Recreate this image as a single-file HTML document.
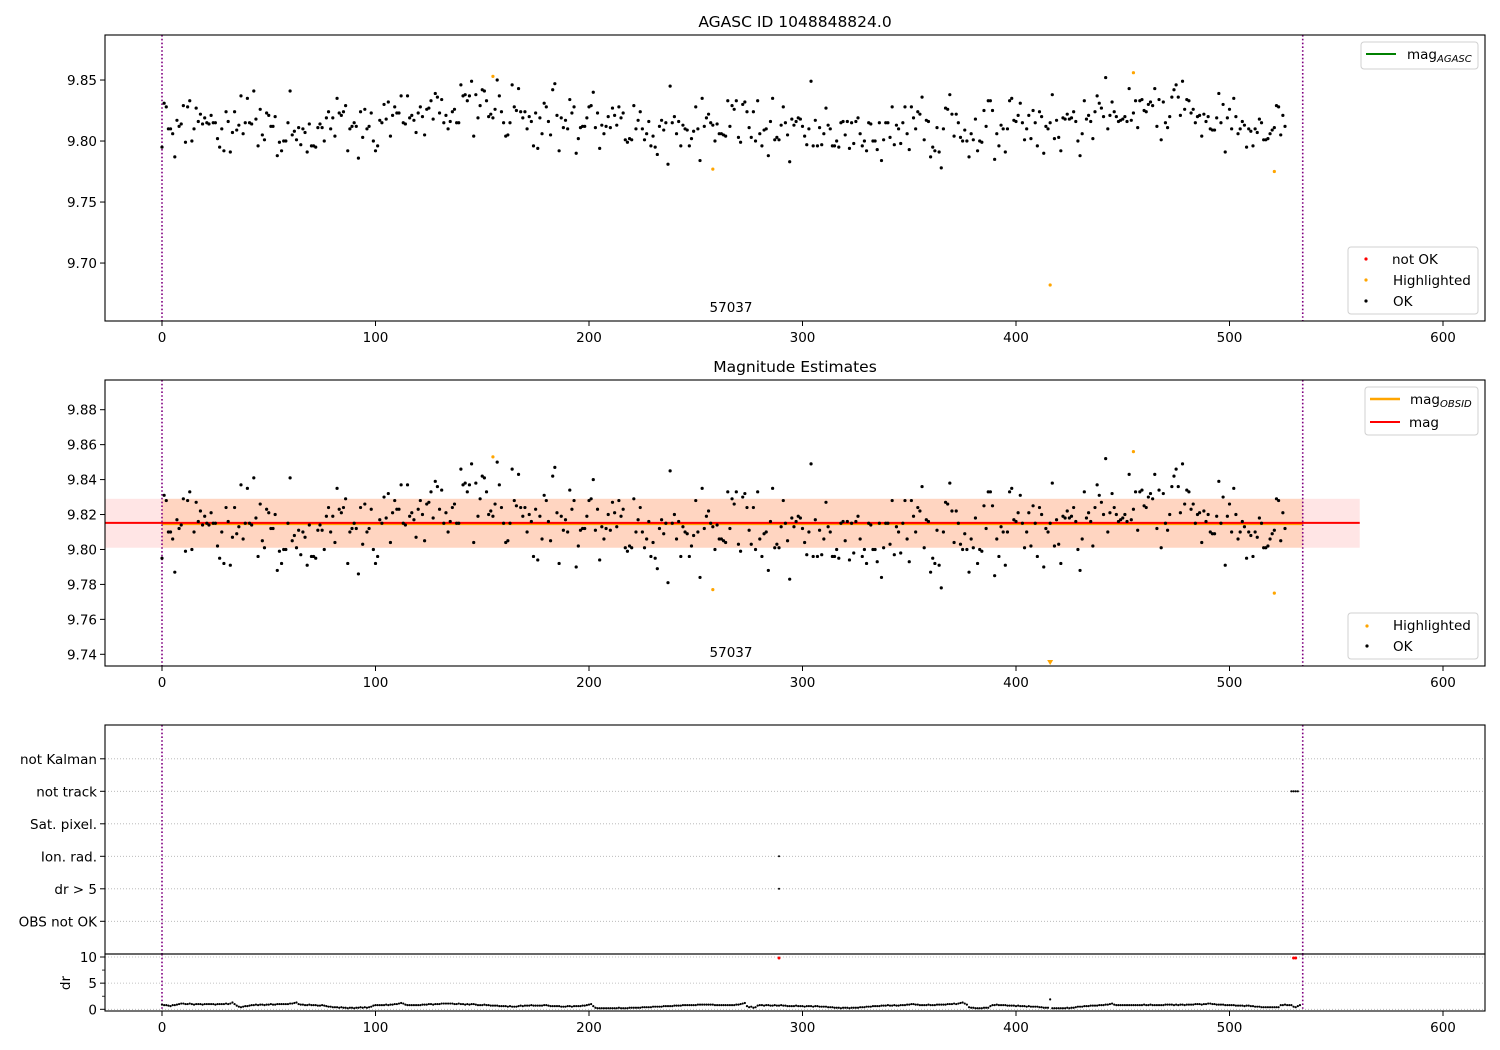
<!DOCTYPE html>
<html><head><meta charset="utf-8"><style>
html,body{margin:0;padding:0;background:#fff;}
svg{display:block;font-family:"DejaVu Sans","Liberation Sans",sans-serif;}
</style></head><body>
<svg id="fig" width="1500" height="1050" viewBox="0 0 1500 1050" xmlns="http://www.w3.org/2000/svg">
<rect width="1500" height="1050" fill="#fff"/>
<text x="795" y="27" font-size="15.5" text-anchor="middle">AGASC ID 1048848824.0</text>
<text x="795" y="372" font-size="15.5" text-anchor="middle">Magnitude Estimates</text>
<g id="layer"></g>
</svg>
<script>
// ---- data ----
const mag = [9.795,9.831,9.828,9.810,9.810,9.806,9.787,9.817,9.812,9.814,9.829,9.799,9.828,9.833,9.800,9.810,9.827,9.816,9.822,9.814,
9.819,9.815,9.814,9.821,9.815,9.815,9.802,9.795,9.810,9.792,9.824,9.816,9.791,9.807,9.824,9.809,9.813,9.837,9.806,9.815,
9.835,9.815,9.814,9.841,9.818,9.796,9.826,9.805,9.801,9.823,9.821,9.812,9.812,9.820,9.788,9.799,9.792,9.800,9.800,9.815,
9.841,9.805,9.808,9.801,9.811,9.797,9.810,9.807,9.791,9.814,9.796,9.796,9.795,9.811,9.814,9.811,9.800,9.819,9.824,9.810,
9.819,9.804,9.835,9.823,9.821,9.824,9.829,9.792,9.810,9.812,9.815,9.812,9.786,9.824,9.803,9.826,9.810,9.812,9.823,9.800,
9.792,9.796,9.817,9.815,9.830,9.818,9.832,9.804,9.821,9.828,9.823,9.823,9.837,9.815,9.814,9.837,9.819,9.821,9.817,9.807,
9.823,9.828,9.820,9.805,9.826,9.827,9.833,9.818,9.839,9.836,9.823,9.834,9.815,9.821,9.810,
9.816,9.824,9.826,9.815,9.815,9.846,9.837,9.838,9.833,9.837,9.849,9.804,9.838,9.819,9.829,9.842,9.841,9.833,9.820,9.822,
9.819,9.826,9.850,9.837,9.824,9.815,9.804,9.805,9.815,9.846,9.828,9.825,9.843,9.824,9.819,9.824,9.810,9.820,9.816,9.796,
9.823,9.794,9.819,9.806,9.831,9.828,9.816,9.805,9.842,9.847,9.821,9.792,9.819,9.811,9.817,9.810,9.834,9.823,9.828,9.790,
9.802,9.811,9.812,9.812,9.819,9.828,9.829,9.840,9.811,9.823,9.794,9.813,9.806,9.812,9.820,9.811,9.827,9.821,9.813,9.828,
9.819,9.823,9.801,9.799,9.802,9.801,9.829,9.810,9.817,9.824,9.810,9.801,9.806,9.816,9.796,9.804,9.795,9.789,9.812,9.817,
9.809,9.815,9.781,9.845,9.815,9.820,9.806,9.816,9.796,9.813,9.810,9.809,9.796,9.802,9.808,9.828,9.810,9.784,9.835,9.812,
9.819,9.822,9.815,9.813,9.800,9.814,9.806,9.806,9.805,9.804,9.833,9.812,9.829,9.826,
9.833,9.803,9.799,9.830,9.832,9.824,9.811,9.803,9.824,9.800,9.833,9.806,9.796,9.809,9.810,9.788,9.816,9.835,9.801,9.803,
9.801,9.813,9.828,9.815,9.805,9.783,9.818,9.813,9.816,9.819,9.818,9.812,9.804,9.797,9.810,9.849,9.796,9.817,9.796,9.811,
9.797,9.806,9.827,9.813,9.810,9.796,9.796,9.800,9.795,9.815,9.816,9.805,9.816,9.794,9.815,9.798,9.816,9.819,9.806,9.796,
9.800,9.792,9.815,9.814,9.800,9.800,9.793,9.815,9.784,9.801,9.815,9.815,9.803,9.828,9.797,9.813,9.810,9.798,9.815,9.828,
9.806,9.793,9.828,9.819,9.810,9.824,9.822,9.836,9.801,9.817,9.816,9.787,9.795,9.792,9.811,9.791,9.778,9.810,9.827,9.826,
9.838,9.822,9.804,9.822,9.815,9.803,9.800,9.809,9.800,9.787,9.806,9.801,9.818,9.792,9.800,9.799,9.825,9.812,9.833,9.833,
9.825,9.785,9.806,9.796,9.813,9.810,9.791,9.810,9.833,9.835,9.817,9.816,9.821,9.831,9.815,
9.801,9.810,9.821,9.802,9.825,9.815,9.796,9.824,9.820,9.790,9.812,9.810,9.815,9.838,9.802,9.817,9.803,9.792,9.819,9.818,
9.822,9.818,9.819,9.824,9.816,9.800,9.788,9.806,9.833,9.818,9.821,9.816,9.802,9.824,9.837,9.831,9.827,9.820,9.852,9.810,
9.821,9.832,9.824,9.820,9.816,9.817,9.818,9.820,9.816,9.843,9.817,9.823,9.833,9.811,9.833,9.834,9.825,9.824,9.830,9.832,
9.829,9.843,9.812,9.834,9.801,9.832,9.815,9.811,9.820,9.836,9.842,9.846,9.836,9.821,9.849,9.826,9.834,9.833,9.823,9.826,
9.815,9.820,9.821,9.804,9.822,9.816,9.820,9.810,9.809,9.809,9.819,9.839,9.815,9.830,9.791,9.819,9.826,9.810,9.835,9.820,
9.806,9.810,9.816,9.813,9.795,9.810,9.808,9.796,9.810,9.807,9.818,9.815,9.801,9.801,9.802,9.806,9.809,9.811,9.829,9.828,
9.805,9.821,9.812];
const hlX = [155, 258, 416, 455, 521];
const hlMag = [9.853, 9.777, 9.682, 9.856, 9.775];
const dr = [0.9,0.8,0.8,0.7,0.6,0.8,0.8,0.9,
1.0,1.1,1.1,1.0,1.0,1.1,1.0,0.9,1.0,1.0,1.0,0.9,1.0,1.0,1.0,1.0,1.0,0.9,1.0,1.0,1.0,1.0,1.1,1.0,1.1,1.3,
1.0,0.7,0.5,0.4,0.5,0.6,0.6,
0.7,0.8,0.8,0.9,0.8,0.9,0.9,0.8,0.9,0.9,1.0,0.9,0.9,1.0,1.0,1.0,1.0,1.0,1.0,1.1,1.1,1.2,1.3,
1.0,0.9,0.9,0.8,0.8,0.9,0.8,0.8,0.8,0.7,0.7,0.8,0.7,0.6,0.5,
0.5,0.4,0.4,0.4,0.3,0.4,0.3,0.3,0.2,0.3,0.3,0.2,0.3,0.3,0.4,0.3,0.4,0.3,0.4,0.5,
0.7,0.8,0.8,0.8,0.8,0.8,0.9,0.8,0.9,0.9,1.0,1.0,1.1,1.2,1.1,0.9,0.8,0.8,0.8,0.8,
0.8,0.8,0.8,0.9,0.9,0.9,1.0,1.0,0.9,1.0,1.0,1.0,1.1,1.1,
1.1,1.1,1.1,1.1,1.0,1.0,1.1,1.0,1.0,0.9,1.0,0.9,1.0,1.0,0.9,0.8,0.8,0.8,0.9,0.8,0.8,0.7,0.7,
0.7,0.7,0.6,0.6,0.6,0.6,0.5,0.6,0.5,0.5,0.5,0.6,0.7,0.6,0.7,0.7,0.7,0.8,0.7,0.7,0.7,0.7,0.7,0.8,0.8,
0.7,0.6,0.6,0.6,0.6,0.6,0.5,0.5,0.5,0.6,0.6,0.5,0.6,0.6,0.6,0.6,0.7,0.7,0.8,0.9,1.0,
0.6,0.3,0.2,0.2,0.2,0.2,0.2,0.2,0.2,0.2,0.2,0.2,0.3,0.2,0.2,0.2,0.2,0.3,0.3,0.3,0.3,0.3,0.3,0.4,0.4,0.4,0.4,0.4,0.5,0.5,0.5,
0.5,0.5,0.6,0.6,0.6,0.6,0.6,0.7,0.7,0.7,0.7,0.8,0.8,0.8,0.8,0.8,0.8,0.8,0.9,0.9,0.9,0.9,0.9,0.9,0.9,0.9,0.8,0.8,0.8,0.8,0.8,0.8,0.8,0.8,0.8,0.8,0.9,0.9,1.0,
1.1,1.2,0.6,0.4,0.5,0.3,0.4,0.7,0.8,0.8,0.7,0.8,0.8,0.7,0.7,0.8,0.7,0.7,0.8,0.7,0.7,0.6,
0.6,0.6,0.6,0.7,0.6,0.6,0.6,0.5,0.6,0.6,0.6,0.5,0.6,0.6,0.5,0.5,0.5,0.5,0.4,0.4,0.4,0.3,
0.3,0.3,0.2,0.3,0.3,0.3,0.2,0.3,0.3,0.3,0.3,0.4,0.4,0.4,0.5,0.5,0.5,
0.6,0.6,0.6,0.6,0.7,0.7,0.7,0.8,0.7,0.7,0.8,0.7,0.7,0.8,0.8,0.8,0.9,0.9,1.0,1.0,0.9,0.9,0.8,
0.8,0.8,0.8,0.9,0.8,0.8,0.8,0.9,0.9,0.9,0.9,0.9,1.0,1.0,1.0,1.1,1.0,1.1,1.2,1.3,1.1,0.9,
0.4,0.3,0.3,0.2,0.2,0.2,0.2,0.3,0.3,0.3,0.6,
0.8,0.8,0.9,0.8,0.8,0.8,0.8,0.7,0.7,0.7,0.7,0.6,0.7,0.6,0.6,0.6,0.5,0.6,0.5,0.5,0.5,0.5,0.4,0.4,0.3,0.3,0.3,
1.9,
0.2,0.2,0.2,0.2,0.2,0.2,0.2,0.3,0.2,0.3,0.3,0.4,
0.5,0.5,0.5,0.6,0.6,0.6,0.7,0.7,0.7,0.7,0.8,0.8,0.8,0.9,0.9,1.0,1.1,0.9,
0.8,0.8,0.8,0.8,0.8,0.8,0.8,0.8,0.8,0.8,0.8,0.8,0.8,0.9,0.8,0.8,0.9,0.8,0.8,0.8,0.8,0.8,0.8,0.9,0.9,0.9,0.9,0.8,0.9,0.8,0.9,0.9,0.8,0.9,0.9,0.9,0.9,1.0,1.0,1.0,0.9,1.0,1.0,1.1,1.1,1.0,1.0,0.9,0.9,
0.9,0.9,0.8,0.8,0.8,0.8,0.8,0.7,0.7,0.7,0.7,0.6,0.7,0.7,0.6,0.6,0.5,0.5,0.5,0.4,0.4,0.4,0.4,0.4,0.4,0.4,0.4,0.4,
0.8,0.8,0.9,0.8,0.8,0.8,0.5,
0.4,0.6,0.8];
const notOkX = [289, 530, 531];
const notOkDr = [9.8, 9.8, 9.8];
const ionRadX = [289];
const drGt5X = [289];
const notTrackX = [529, 530, 531, 532];
const flagLabels = ["OBS not OK","dr > 5","Ion. rad.","Sat. pixel.","not track","not Kalman"];
const xTicks = [0,100,200,300,400,500,600];
const p1Ticks = [9.70,9.75,9.80,9.85];
const p2Ticks = [9.74,9.76,9.78,9.80,9.82,9.84,9.86,9.88];
const drTicks = [0,5,10];
const obsStart = 0, obsEnd = 534.3;
const magMean = 9.8152, magLo = 9.801, magHi = 9.829, bandEnd = 561;

// ---- scales ----
const NS = "http://www.w3.org/2000/svg";
const L = 105, R = 1485;
const X = v => 162 + v * 2.135;
const P1 = {top:35, bot:321, lo:9.6525, hi:9.8869};
const P2 = {top:380, bot:666, lo:9.7333, hi:9.8970};
const yP = (p, v) => p.top + (p.hi - v) / (p.hi - p.lo) * (p.bot - p.top);
const Y3 = c => 921.3 - c * 32.5;
const Y4 = d => 1009.3 - d * 5.23;
const layer = document.getElementById('layer');
function mk(tag, attrs, parent) {
  const e = document.createElementNS(NS, tag);
  for (const k in attrs) e.setAttribute(k, attrs[k]);
  (parent || layer).appendChild(e);
  return e;
}
function dot(x, y, r, fill, name) {
  const e = mk('circle', {cx:x, cy:y, r:r, fill:fill});
  
  
  return e;
}
function xAxis(bot, labels) {
  xTicks.forEach(t => {
    const tk = mk('line', {x1:X(t), x2:X(t), y1:bot, y2:bot+5, stroke:'#000', 'stroke-width':1});
    
    
    if (labels) {
      const tx = mk('text', {x:X(t), y:bot+21, 'font-size':13.5, 'text-anchor':'middle'});
      tx.textContent = t;
      
      
    }
  });
}
function yTicks(ticks, yf, dec) {
  ticks.forEach(t => {
    const y = yf(t);
    const tk = mk('line', {x1:L-5, x2:L, y1:y, y2:y, stroke:'#000', 'stroke-width':1});
    
    
    const tx = mk('text', {x:L-8, y:y+5, 'font-size':13.5, 'text-anchor':'end'});
    tx.textContent = dec >= 0 ? t.toFixed(dec) : t;
    
    
  });
}
function vlines(top, bot) {
  [obsStart, obsEnd].forEach(v => {
    const l = mk('line', {x1:X(v), x2:X(v), y1:top, y2:bot, stroke:'#800080', 'stroke-width':1.6, 'stroke-dasharray':'1.6,2.2'});
    
    
  });
}
function frame(top, bot, name) {
  const r = mk('rect', {x:L, y:top, width:R-L, height:bot-top, fill:'none', stroke:'#000', 'stroke-width':1.1});
  
  
}
function label(x, y, txt, name, size, anchor) {
  const t = mk('text', {x:x, y:y, 'font-size':size||13.5, 'text-anchor':anchor||'start'});
  t.textContent = txt;
  
  
  return t;
}

// ---- panel 1 ----
vlines(P1.top, P1.bot);
mag.forEach((v, i) => dot(X(i), yP(P1, v), 1.6, '#000', 'ok-point'));
hlX.forEach((x, i) => dot(X(x), yP(P1, hlMag[i]), 1.6, 'orange', 'highlighted-point'));
label(731, 312, '57037', 'obsid-label-1', 13.5, 'middle');
frame(P1.top, P1.bot, 'agasc-panel');
yTicks(p1Ticks, v => yP(P1, v), 2);
xAxis(P1.bot, true);

// ---- panel 2 ----
let e;
e = mk('rect', {x:L, y:yP(P2, magHi), width:X(bandEnd)-L, height:yP(P2, magLo)-yP(P2, magHi), fill:'rgba(255,0,0,0.1)'});
 
e = mk('rect', {x:X(obsStart), y:yP(P2, magHi), width:X(obsEnd)-X(obsStart), height:yP(P2, magLo)-yP(P2, magHi), fill:'rgba(255,150,50,0.2)'});
 
e = mk('line', {x1:X(obsStart), x2:X(obsEnd), y1:yP(P2, magMean)+1.2, y2:yP(P2, magMean)+1.2, stroke:'orange', 'stroke-width':2});
 
e = mk('line', {x1:L, x2:X(bandEnd), y1:yP(P2, magMean), y2:yP(P2, magMean), stroke:'red', 'stroke-width':2});
 
vlines(P2.top, P2.bot);
mag.forEach((v, i) => dot(X(i), yP(P2, v), 1.6, '#000', 'ok-point'));
hlX.forEach((x, i) => {
  const v = hlMag[i];
  if (v < P2.lo) {
    const cx = X(x), cy = P2.bot - 4;
    e = mk('polygon', {points:`${cx-3},${cy-2} ${cx+3},${cy-2} ${cx},${cy+3}`, fill:'orange'});
     
  } else dot(X(x), yP(P2, v), 1.6, 'orange', 'highlighted-point');
});
label(731, 657, '57037', 'obsid-label-2', 13.5, 'middle');
frame(P2.top, P2.bot, 'magnitude-panel');
yTicks(p2Ticks, v => yP(P2, v), 2);
xAxis(P2.bot, true);

// ---- panel 3 (flags) ----
flagLabels.forEach((lab, c) => {
  e = mk('line', {x1:L, x2:R, y1:Y3(c), y2:Y3(c), stroke:'#b0b0b0', 'stroke-width':0.8, 'stroke-dasharray':'1,2'});
   
});
vlines(725, 954);
ionRadX.forEach(x => dot(X(x), Y3(2), 1, '#000', 'ion-rad-point'));
drGt5X.forEach(x => dot(X(x), Y3(1), 1, '#000', 'dr-gt-5-point'));
notTrackX.forEach(x => dot(X(x), Y3(4), 1.1, '#000', 'not-track-point'));
frame(725, 954, 'flags-panel');
yTicks([0,1,2,3,4,5], Y3, -1);
Array.from(layer.querySelectorAll('text')).slice(-6).forEach((t, i) => { t.textContent = flagLabels[i];  });

// ---- panel 4 (dr) ----
drTicks.forEach(d => {
  e = mk('line', {x1:L, x2:R, y1:Y4(d), y2:Y4(d), stroke:'#b0b0b0', 'stroke-width':0.8, 'stroke-dasharray':'1,2'});
   
});
vlines(954, 1011);
dr.forEach((d, i) => dot(X(i), Y4(d), 1.1, '#000', 'dr-point'));
notOkX.forEach((x, i) => dot(X(x), Y4(notOkDr[i]), 1.5, 'red', 'not-ok-dr-point'));
frame(954, 1011, 'dr-panel');
yTicks(drTicks, Y4, -1);
[2.5, 7.5].forEach(d => {
  e = mk('line', {x1:L-3, x2:L, y1:Y4(d), y2:Y4(d), stroke:'#000', 'stroke-width':0.8});
   
});
e = label(70, 983, 'dr', 'dr-axis-title', 13.5, 'middle');
e.setAttribute('transform', 'rotate(-90 70 983)');
xAxis(1011, true);

// ---- legends ----
function legBox(x, y, w, h, name) {
  e = mk('rect', {x:x, y:y, width:w, height:h, rx:3, fill:'rgba(255,255,255,0.85)', stroke:'#d0d0d0', 'stroke-width':1});
   
}
function subLabel(x, y, main, sub, name) {
  const t = mk('text', {x:x, y:y, 'font-size':13.5});
   
  const a = mk('tspan', {}, t); a.textContent = main;
  const b = mk('tspan', {'font-size':10, 'font-style':'italic', dy:3}, t); b.textContent = sub;
}
legBox(1361, 42, 117, 27, 'legend-agasc');
e = mk('line', {x1:1366, x2:1396, y1:54, y2:54, stroke:'green', 'stroke-width':2});
 
subLabel(1407, 59, 'mag', 'AGASC', 'legend-agasc-label');

legBox(1348, 247, 130, 67, 'legend-status-1');
dot(1366, 259, 1.6, 'red', 'legend-notok-marker');
label(1392, 264, 'not OK', 'legend-notok-label');
dot(1366, 280, 1.6, 'orange', 'legend-highlighted-marker');
label(1393, 285, 'Highlighted', 'legend-highlighted-label');
dot(1366, 301, 1.6, '#000', 'legend-ok-marker');
label(1393, 306, 'OK', 'legend-ok-label');

legBox(1365, 387, 113, 48, 'legend-mag');
e = mk('line', {x1:1370, x2:1400, y1:399, y2:399, stroke:'orange', 'stroke-width':2.5});
 
subLabel(1410, 404, 'mag', 'OBSID', 'legend-obsid-label');
e = mk('line', {x1:1370, x2:1400, y1:422, y2:422, stroke:'red', 'stroke-width':2});
 
label(1409, 427, 'mag', 'legend-mag-label');

legBox(1348, 613, 130, 46, 'legend-status-2');
dot(1367, 626, 1.6, 'orange', 'legend-highlighted-marker-2');
label(1393, 630, 'Highlighted', 'legend-highlighted-label-2');
dot(1367, 646, 1.6, '#000', 'legend-ok-marker-2');
label(1393, 651, 'OK', 'legend-ok-label-2');
</script>
</body></html>
